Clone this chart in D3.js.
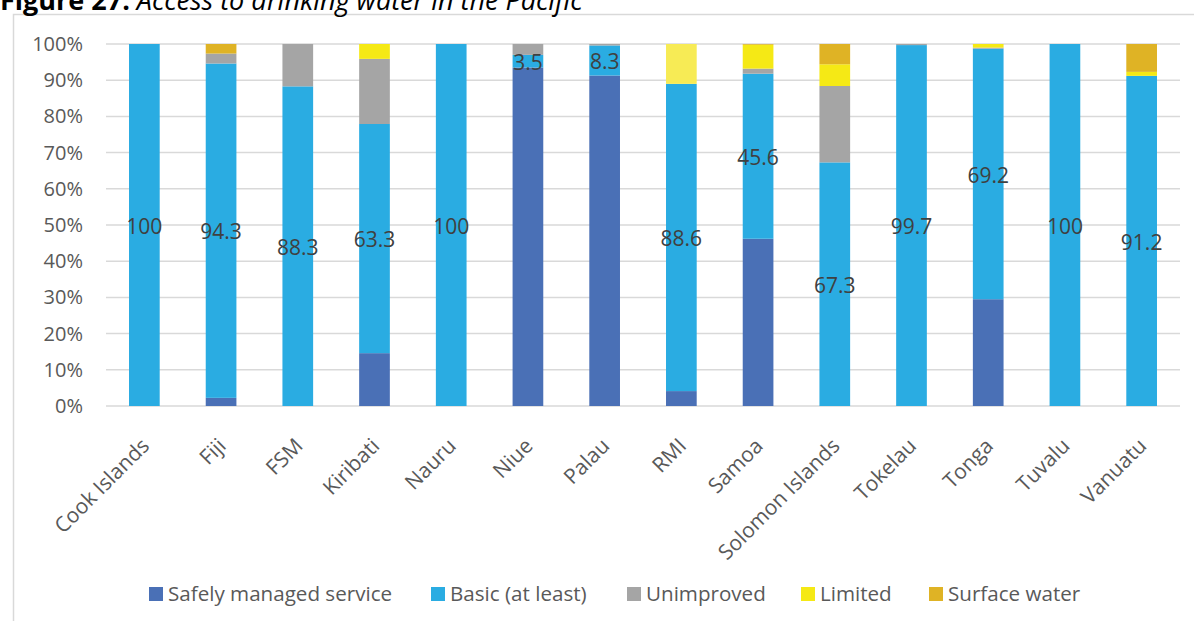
<!DOCTYPE html>
<html><head><meta charset="utf-8">
<script src="https://cdn.jsdelivr.net/npm/d3@7"></script>
<style>
html,body{margin:0;padding:0;background:#fff;overflow:hidden;}
svg{display:block;font-family:"Open Sans",sans-serif;}
</style></head>
<body>
<svg id="c" width="1194" height="621"></svg>
<script>
const categories = ["Cook Islands","Fiji","FSM","Kiribati","Nauru","Niue","Palau","RMI","Samoa","Solomon Islands","Tokelau","Tonga","Tuvalu","Vanuatu"];
const seriesNames = ["Safely managed service","Basic (at least)","Unimproved","Limited","Surface water"];
const safelyManaged = [0, 2.3, 0, 14.6, 0, 93.5, 91.3, 4.3, 46.2, 0, 0, 29.5, 0, 0];
const basicAtLeast  = [100, 94.3, 88.3, 63.3, 100, 3.5, 8.3, 88.6, 45.6, 67.3, 99.7, 69.2, 100, 91.2];
const unimproved    = [0, 2.8, 11.7, 18.0, 0, 3.0, 0.4, 0, 1.4, 21.1, 0.3, 0.3, 0, 0];
const limited       = [0, 0, 0, 4.1, 0, 0, 0, 11.5, 6.6, 6.0, 0, 1.0, 0, 1.1];
const surfaceWater  = [0, 2.7, 0, 0, 0, 0, 0, 0, 0.2, 5.6, 0, 0, 0, 7.7];
const seriesColors = ["#4A70B6","#2AACE2","#A5A5A5","#F5E915","#DFB325"];
const pointColorOverrides = {"RMI|Limited":"#F7EB55"};
const yTicks = [0,0.1,0.2,0.3,0.4,0.5,0.6,0.7,0.8,0.9,1.0];
const titleBold = "Figure 27:";
const titleItalic = " Access to drinking water in the Pacific";

const seriesArrays = [safelyManaged, basicAtLeast, unimproved, limited, surfaceWater];
const rows = categories.map((c,i)=>{
  const r = {category:c};
  seriesNames.forEach((s,j)=> r[s] = seriesArrays[j][i]);
  return r;
});

const svg = d3.select("#c");
const m = {left:106, right:1180, top:44, bottom:406};

// chart frame
svg.append("rect").attr("x",13.5).attr("y",14.5).attr("width",1300).attr("height",800)
  .attr("fill","none").attr("stroke","#D9D9D9").attr("stroke-width",1.5);

// title
const t = svg.append("text").attr("x",0).attr("y",10).attr("font-size",27).attr("fill","#000")
  .attr("font-family","'Open Sans',sans-serif");
t.append("tspan").attr("font-weight","bold").text(titleBold);
t.append("tspan").attr("font-style","italic").text(titleItalic);

const x = d3.scaleBand().domain(categories).range([m.left,m.right]).paddingInner(0.6).paddingOuter(0.3);
const y = d3.scaleLinear().domain([0,1]).range([m.bottom,m.top]);

// gridlines
svg.append("g").selectAll("line").data(yTicks).join("line")
  .attr("x1",m.left).attr("x2",m.right)
  .attr("y1",d=>y(d)).attr("y2",d=>y(d))
  .attr("stroke","#D9D9D9").attr("stroke-width",1.5);

// y axis labels
const yAxis = d3.axisLeft(y).tickValues(yTicks).tickFormat(d3.format(".0%")).tickSize(0).tickPadding(23);
const ya = svg.append("g").attr("transform",`translate(${m.left},0)`).call(yAxis);
ya.select(".domain").remove();
ya.selectAll("text").attr("font-size",20).attr("fill","#595959").attr("font-family","'Open Sans',sans-serif");

const stack = d3.stack().keys(seriesNames).offset(d3.stackOffsetExpand);
const stacked = stack(rows);

const g = svg.append("g");
stacked.forEach((layer,j)=>{
  g.append("g").selectAll("rect").data(layer).join("rect")
    .attr("x",d=>x(d.data.category))
    .attr("width",x.bandwidth())
    .attr("y",d=>y(d[1]))
    .attr("height",d=>Math.max(0,y(d[0])-y(d[1])))
    .attr("fill",d=> pointColorOverrides[d.data.category+"|"+layer.key.split(" ")[0]] || seriesColors[j]);
});

// data labels on Basic series
const basicLayer = stacked[1];
svg.append("g").selectAll("text").data(basicLayer).join("text")
  .attr("x",d=>x(d.data.category)+x.bandwidth()/2)
  .attr("y",d=>(y(d[0])+y(d[1]))/2)
  .attr("dy","0.42em")
  .attr("text-anchor","middle")
  .attr("font-size",21).attr("fill","#404040")
  .text(d=>String(d.data["Basic (at least)"]));

// x axis
const xAxis = d3.axisBottom(x).tickSize(0).tickPadding(0);
const xa = svg.append("g").attr("transform",`translate(0,${m.bottom})`).call(xAxis);
xa.select(".domain").remove();
xa.selectAll(".tick text")
  .attr("font-size",21).attr("fill","#595959").attr("font-family","'Open Sans',sans-serif")
  .attr("text-anchor","end")
  .attr("transform","translate(1,36) rotate(-45)")
  .attr("y",0).attr("x",0).attr("dy","0.35em");

// legend
const legendX = [149, 431, 627, 801, 929];
const lg = svg.append("g");
seriesNames.forEach((s,i)=>{
  const gi = lg.append("g").attr("transform",`translate(${legendX[i]},594)`);
  gi.append("rect").attr("x",0).attr("y",-7).attr("width",14).attr("height",14).attr("fill",seriesColors[i]);
  gi.append("text").attr("x",19).attr("y",0).attr("dy","0.35em").attr("font-size",20.6)
    .attr("fill","#595959").text(s);
});
</script>
</body></html>
